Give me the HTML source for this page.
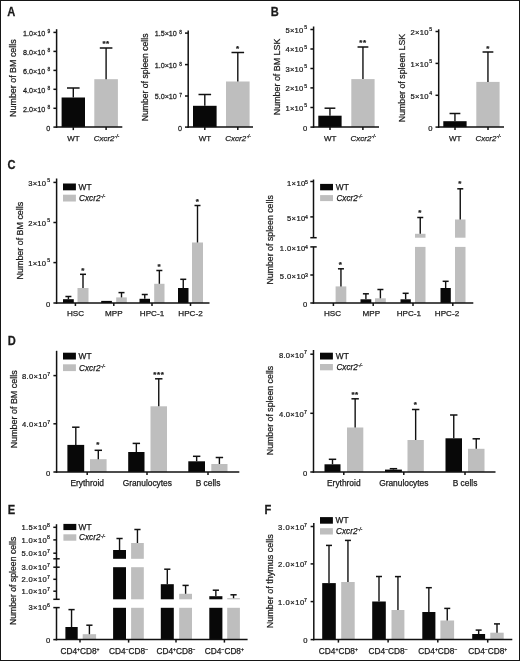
<!DOCTYPE html>
<html><head><meta charset="utf-8"><style>
html,body{margin:0;padding:0;background:#fff;}
body{width:520px;height:661px;overflow:hidden;}
svg{display:block;filter:blur(0.4px);font-family:"Liberation Sans",sans-serif;fill:#1a1a1a;}
text{stroke:#1a1a1a;stroke-width:0.25px;}
</style></head><body>
<svg width="520" height="661" viewBox="0 0 520 661">
<rect x="0.5" y="0.5" width="519" height="660" fill="#fff" stroke="#161616" stroke-width="1"/>
<text transform="translate(7.3,15.6) scale(0.92,1)" font-size="12.1" font-weight="bold">A</text>
<text transform="translate(15.6,78.1) rotate(-90) scale(0.93,1)" font-size="9.57" text-anchor="middle">Number of BM cells</text>
<line x1="56.60" y1="29.20" x2="56.60" y2="127.85" stroke="#111" stroke-width="1.5"/>
<line x1="53.40" y1="32.40" x2="56.60" y2="32.40" stroke="#111" stroke-width="1.5"/>
<text transform="translate(50.30,35.70) scale(0.89,1)" font-size="8.1" text-anchor="end" letter-spacing="0.0">1.0×10<tspan dx="2.6" dy="-2.4" font-size="5.5">9</tspan></text>
<line x1="53.40" y1="51.40" x2="56.60" y2="51.40" stroke="#111" stroke-width="1.5"/>
<text transform="translate(50.30,54.70) scale(0.89,1)" font-size="8.1" text-anchor="end" letter-spacing="0.0">8.0×10<tspan dx="2.6" dy="-2.4" font-size="5.5">8</tspan></text>
<line x1="53.40" y1="70.40" x2="56.60" y2="70.40" stroke="#111" stroke-width="1.5"/>
<text transform="translate(50.30,73.70) scale(0.89,1)" font-size="8.1" text-anchor="end" letter-spacing="0.0">6.0×10<tspan dx="2.6" dy="-2.4" font-size="5.5">8</tspan></text>
<line x1="53.40" y1="89.30" x2="56.60" y2="89.30" stroke="#111" stroke-width="1.5"/>
<text transform="translate(50.30,92.60) scale(0.89,1)" font-size="8.1" text-anchor="end" letter-spacing="0.0">4.0×10<tspan dx="2.6" dy="-2.4" font-size="5.5">8</tspan></text>
<line x1="53.40" y1="108.30" x2="56.60" y2="108.30" stroke="#111" stroke-width="1.5"/>
<text transform="translate(50.30,111.60) scale(0.89,1)" font-size="8.1" text-anchor="end" letter-spacing="0.0">2.0×10<tspan dx="2.6" dy="-2.4" font-size="5.5">8</tspan></text>
<line x1="53.40" y1="127.10" x2="56.60" y2="127.10" stroke="#111" stroke-width="1.5"/>
<text transform="translate(50.30,130.60) scale(0.89,1)" font-size="8.1" text-anchor="end">0</text>
<rect x="61.60" y="97.50" width="23.40" height="29.60" fill="#080808"/>
<line x1="73.30" y1="97.50" x2="73.30" y2="88.00" stroke="#111" stroke-width="1.4"/>
<line x1="67.00" y1="88.00" x2="79.60" y2="88.00" stroke="#111" stroke-width="1.5"/>
<rect x="94.30" y="79.20" width="23.60" height="47.90" fill="#bebebe"/>
<line x1="106.10" y1="79.20" x2="106.10" y2="48.00" stroke="#111" stroke-width="1.4"/>
<line x1="99.80" y1="48.00" x2="112.40" y2="48.00" stroke="#111" stroke-width="1.5"/>
<text x="106.10" y="46.00" font-size="8" text-anchor="middle" font-weight="bold" letter-spacing="0.6">**</text>
<line x1="55.85" y1="127.10" x2="122.30" y2="127.10" stroke="#111" stroke-width="1.5"/>
<line x1="73.30" y1="127.10" x2="73.30" y2="130.10" stroke="#111" stroke-width="1.5"/>
<line x1="106.10" y1="127.10" x2="106.10" y2="130.10" stroke="#111" stroke-width="1.5"/>
<text x="73.40" y="140.50" font-size="8.0" text-anchor="middle" >WT</text>
<text x="106.40" y="140.50" font-size="8.0" text-anchor="middle" font-style="italic">Cxcr2<tspan dx="0.4" dy="-2.7" font-size="4.48">-/-</tspan></text>
<text transform="translate(147.6,77.4) rotate(-90) scale(0.93,1)" font-size="9.30" text-anchor="middle">Number of spleen cells</text>
<line x1="188.20" y1="30.60" x2="188.20" y2="127.85" stroke="#111" stroke-width="1.5"/>
<line x1="185.00" y1="33.10" x2="188.20" y2="33.10" stroke="#111" stroke-width="1.5"/>
<text transform="translate(181.90,36.40) scale(0.89,1)" font-size="8.1" text-anchor="end" letter-spacing="0.0">1.5×10<tspan dx="2.6" dy="-2.4" font-size="5.5">8</tspan></text>
<line x1="185.00" y1="64.60" x2="188.20" y2="64.60" stroke="#111" stroke-width="1.5"/>
<text transform="translate(181.90,67.90) scale(0.89,1)" font-size="8.1" text-anchor="end" letter-spacing="0.0">1.0×10<tspan dx="2.6" dy="-2.4" font-size="5.5">8</tspan></text>
<line x1="185.00" y1="96.00" x2="188.20" y2="96.00" stroke="#111" stroke-width="1.5"/>
<text transform="translate(181.90,99.30) scale(0.89,1)" font-size="8.1" text-anchor="end" letter-spacing="0.0">5.0×10<tspan dx="2.6" dy="-2.4" font-size="5.5">7</tspan></text>
<line x1="185.00" y1="127.10" x2="188.20" y2="127.10" stroke="#111" stroke-width="1.5"/>
<text transform="translate(181.90,130.60) scale(0.89,1)" font-size="8.1" text-anchor="end">0</text>
<rect x="193.00" y="105.80" width="23.60" height="21.30" fill="#080808"/>
<line x1="204.80" y1="105.80" x2="204.80" y2="94.50" stroke="#111" stroke-width="1.4"/>
<line x1="198.50" y1="94.50" x2="211.10" y2="94.50" stroke="#111" stroke-width="1.5"/>
<rect x="226.00" y="81.50" width="23.60" height="45.60" fill="#bebebe"/>
<line x1="237.80" y1="81.50" x2="237.80" y2="52.50" stroke="#111" stroke-width="1.4"/>
<line x1="231.50" y1="52.50" x2="244.10" y2="52.50" stroke="#111" stroke-width="1.5"/>
<text x="237.80" y="50.50" font-size="8" text-anchor="middle" font-weight="bold" letter-spacing="0.6">*</text>
<line x1="187.45" y1="127.10" x2="253.00" y2="127.10" stroke="#111" stroke-width="1.5"/>
<line x1="204.80" y1="127.10" x2="204.80" y2="130.10" stroke="#111" stroke-width="1.5"/>
<line x1="237.80" y1="127.10" x2="237.80" y2="130.10" stroke="#111" stroke-width="1.5"/>
<text x="204.90" y="140.50" font-size="8.0" text-anchor="middle" >WT</text>
<text x="238.10" y="140.50" font-size="8.0" text-anchor="middle" font-style="italic">Cxcr2<tspan dx="0.4" dy="-2.7" font-size="4.48">-/-</tspan></text>
<text transform="translate(270.8,15.6) scale(0.92,1)" font-size="12.1" font-weight="bold">B</text>
<text transform="translate(280.2,76.9) rotate(-90) scale(0.93,1)" font-size="9.57" text-anchor="middle">Number of BM LSK</text>
<line x1="313.60" y1="26.50" x2="313.60" y2="127.85" stroke="#111" stroke-width="1.5"/>
<line x1="310.40" y1="29.50" x2="313.60" y2="29.50" stroke="#111" stroke-width="1.5"/>
<text transform="translate(307.30,32.90) scale(0.94,1)" font-size="8.1" text-anchor="end" letter-spacing="0.27">5×10<tspan dx="0.6" dy="-3.7" font-size="5.5">5</tspan></text>
<line x1="310.40" y1="49.00" x2="313.60" y2="49.00" stroke="#111" stroke-width="1.5"/>
<text transform="translate(307.30,52.40) scale(0.94,1)" font-size="8.1" text-anchor="end" letter-spacing="0.27">4×10<tspan dx="0.6" dy="-3.7" font-size="5.5">5</tspan></text>
<line x1="310.40" y1="68.50" x2="313.60" y2="68.50" stroke="#111" stroke-width="1.5"/>
<text transform="translate(307.30,71.90) scale(0.94,1)" font-size="8.1" text-anchor="end" letter-spacing="0.27">3×10<tspan dx="0.6" dy="-3.7" font-size="5.5">5</tspan></text>
<line x1="310.40" y1="87.90" x2="313.60" y2="87.90" stroke="#111" stroke-width="1.5"/>
<text transform="translate(307.30,91.30) scale(0.94,1)" font-size="8.1" text-anchor="end" letter-spacing="0.27">2×10<tspan dx="0.6" dy="-3.7" font-size="5.5">5</tspan></text>
<line x1="310.40" y1="107.50" x2="313.60" y2="107.50" stroke="#111" stroke-width="1.5"/>
<text transform="translate(307.30,110.90) scale(0.94,1)" font-size="8.1" text-anchor="end" letter-spacing="0.27">1×10<tspan dx="0.6" dy="-3.7" font-size="5.5">5</tspan></text>
<line x1="310.40" y1="127.10" x2="313.60" y2="127.10" stroke="#111" stroke-width="1.5"/>
<text transform="translate(307.30,130.60) scale(0.94,1)" font-size="8.1" text-anchor="end">0</text>
<rect x="318.30" y="115.70" width="23.30" height="11.40" fill="#080808"/>
<line x1="329.95" y1="115.70" x2="329.95" y2="108.20" stroke="#111" stroke-width="1.4"/>
<line x1="324.55" y1="108.20" x2="335.35" y2="108.20" stroke="#111" stroke-width="1.5"/>
<rect x="351.30" y="79.10" width="23.30" height="48.00" fill="#bebebe"/>
<line x1="362.95" y1="79.10" x2="362.95" y2="47.00" stroke="#111" stroke-width="1.4"/>
<line x1="357.55" y1="47.00" x2="368.35" y2="47.00" stroke="#111" stroke-width="1.5"/>
<text x="363.00" y="45.00" font-size="8" text-anchor="middle" font-weight="bold" letter-spacing="0.6">**</text>
<line x1="312.85" y1="127.10" x2="379.00" y2="127.10" stroke="#111" stroke-width="1.5"/>
<line x1="330.00" y1="127.10" x2="330.00" y2="130.10" stroke="#111" stroke-width="1.5"/>
<line x1="362.90" y1="127.10" x2="362.90" y2="130.10" stroke="#111" stroke-width="1.5"/>
<text x="330.10" y="140.50" font-size="8.0" text-anchor="middle" >WT</text>
<text x="363.20" y="140.50" font-size="8.0" text-anchor="middle" font-style="italic">Cxcr2<tspan dx="0.4" dy="-2.7" font-size="4.48">-/-</tspan></text>
<text transform="translate(405,78.0) rotate(-90) scale(0.93,1)" font-size="9.46" text-anchor="middle">Number of spleen LSK</text>
<line x1="438.70" y1="29.30" x2="438.70" y2="127.85" stroke="#111" stroke-width="1.5"/>
<line x1="435.50" y1="31.50" x2="438.70" y2="31.50" stroke="#111" stroke-width="1.5"/>
<text transform="translate(432.40,34.90) scale(0.94,1)" font-size="8.1" text-anchor="end" letter-spacing="0.27">2×10<tspan dx="0.6" dy="-3.7" font-size="5.5">5</tspan></text>
<line x1="435.50" y1="63.40" x2="438.70" y2="63.40" stroke="#111" stroke-width="1.5"/>
<text transform="translate(432.40,66.80) scale(0.94,1)" font-size="8.1" text-anchor="end" letter-spacing="0.27">1×10<tspan dx="0.6" dy="-3.7" font-size="5.5">5</tspan></text>
<line x1="435.50" y1="95.30" x2="438.70" y2="95.30" stroke="#111" stroke-width="1.5"/>
<text transform="translate(432.40,98.70) scale(0.94,1)" font-size="8.1" text-anchor="end" letter-spacing="0.27">5×10<tspan dx="0.6" dy="-3.7" font-size="5.5">4</tspan></text>
<line x1="435.50" y1="127.10" x2="438.70" y2="127.10" stroke="#111" stroke-width="1.5"/>
<text transform="translate(432.40,130.60) scale(0.94,1)" font-size="8.1" text-anchor="end">0</text>
<rect x="443.30" y="121.20" width="23.30" height="5.90" fill="#080808"/>
<line x1="454.95" y1="121.20" x2="454.95" y2="113.50" stroke="#111" stroke-width="1.4"/>
<line x1="449.55" y1="113.50" x2="460.35" y2="113.50" stroke="#111" stroke-width="1.5"/>
<rect x="476.30" y="81.90" width="23.30" height="45.20" fill="#bebebe"/>
<line x1="487.95" y1="81.90" x2="487.95" y2="52.00" stroke="#111" stroke-width="1.4"/>
<line x1="482.55" y1="52.00" x2="493.35" y2="52.00" stroke="#111" stroke-width="1.5"/>
<text x="488.00" y="50.50" font-size="8" text-anchor="middle" font-weight="bold" letter-spacing="0.6">*</text>
<line x1="437.95" y1="127.10" x2="504.00" y2="127.10" stroke="#111" stroke-width="1.5"/>
<line x1="455.00" y1="127.10" x2="455.00" y2="130.10" stroke="#111" stroke-width="1.5"/>
<line x1="488.00" y1="127.10" x2="488.00" y2="130.10" stroke="#111" stroke-width="1.5"/>
<text x="455.10" y="140.50" font-size="8.0" text-anchor="middle" >WT</text>
<text x="488.30" y="140.50" font-size="8.0" text-anchor="middle" font-style="italic">Cxcr2<tspan dx="0.4" dy="-2.7" font-size="4.48">-/-</tspan></text>
<text transform="translate(7.6,169.2) scale(0.92,1)" font-size="12.1" font-weight="bold">C</text>
<text transform="translate(22.8,240.6) rotate(-90) scale(0.93,1)" font-size="9.57" text-anchor="middle">Number of BM cells</text>
<line x1="56.60" y1="178.50" x2="56.60" y2="303.75" stroke="#111" stroke-width="1.5"/>
<line x1="53.40" y1="182.40" x2="56.60" y2="182.40" stroke="#111" stroke-width="1.5"/>
<text transform="translate(50.30,185.60) scale(0.94,1)" font-size="8.1" text-anchor="end" letter-spacing="0.27">3×10<tspan dx="0.9" dy="-3.7" font-size="5.5">5</tspan></text>
<line x1="53.40" y1="222.50" x2="56.60" y2="222.50" stroke="#111" stroke-width="1.5"/>
<text transform="translate(50.30,225.70) scale(0.94,1)" font-size="8.1" text-anchor="end" letter-spacing="0.27">2×10<tspan dx="0.9" dy="-3.7" font-size="5.5">5</tspan></text>
<line x1="53.40" y1="262.60" x2="56.60" y2="262.60" stroke="#111" stroke-width="1.5"/>
<text transform="translate(50.30,265.80) scale(0.94,1)" font-size="8.1" text-anchor="end" letter-spacing="0.27">1×10<tspan dx="0.9" dy="-3.7" font-size="5.5">5</tspan></text>
<line x1="53.40" y1="303.00" x2="56.60" y2="303.00" stroke="#111" stroke-width="1.5"/>
<text transform="translate(50.30,306.50) scale(0.94,1)" font-size="8.1" text-anchor="end">0</text>
<rect x="63.00" y="183.50" width="12.90" height="6.80" fill="#080808"/>
<rect x="63.00" y="194.70" width="12.90" height="6.80" fill="#bebebe"/>
<text x="78.50" y="189.80" font-size="8.4" text-anchor="start" >WT</text>
<text x="79.10" y="200.90" font-size="8.2" text-anchor="start" font-style="italic">Cxcr2<tspan dx="0.4" dy="-2.7" font-size="4.59">-/-</tspan></text>
<rect x="63.00" y="299.20" width="10.80" height="3.80" fill="#080808"/>
<line x1="68.40" y1="299.20" x2="68.40" y2="296.50" stroke="#111" stroke-width="1.4"/>
<line x1="65.40" y1="296.50" x2="71.40" y2="296.50" stroke="#111" stroke-width="1.5"/>
<rect x="77.50" y="288.00" width="11.00" height="15.00" fill="#bebebe"/>
<line x1="83.00" y1="288.00" x2="83.00" y2="274.30" stroke="#111" stroke-width="1.4"/>
<line x1="80.00" y1="274.30" x2="86.00" y2="274.30" stroke="#111" stroke-width="1.5"/>
<text x="83.00" y="272.50" font-size="8" text-anchor="middle" font-weight="bold" letter-spacing="0.6">*</text>
<rect x="101.20" y="300.90" width="10.70" height="2.10" fill="#080808"/>
<rect x="116.20" y="297.40" width="10.60" height="5.60" fill="#bebebe"/>
<line x1="121.50" y1="297.40" x2="121.50" y2="292.60" stroke="#111" stroke-width="1.4"/>
<line x1="118.50" y1="292.60" x2="124.50" y2="292.60" stroke="#111" stroke-width="1.5"/>
<rect x="139.50" y="298.80" width="10.50" height="4.20" fill="#080808"/>
<line x1="144.75" y1="298.80" x2="144.75" y2="294.50" stroke="#111" stroke-width="1.4"/>
<line x1="141.75" y1="294.50" x2="147.75" y2="294.50" stroke="#111" stroke-width="1.5"/>
<rect x="154.20" y="283.80" width="10.30" height="19.20" fill="#bebebe"/>
<line x1="159.35" y1="283.80" x2="159.35" y2="270.50" stroke="#111" stroke-width="1.4"/>
<line x1="156.35" y1="270.50" x2="162.35" y2="270.50" stroke="#111" stroke-width="1.5"/>
<text x="159.30" y="269.00" font-size="8" text-anchor="middle" font-weight="bold" letter-spacing="0.6">*</text>
<rect x="178.00" y="288.00" width="10.50" height="15.00" fill="#080808"/>
<line x1="183.25" y1="288.00" x2="183.25" y2="279.30" stroke="#111" stroke-width="1.4"/>
<line x1="180.25" y1="279.30" x2="186.25" y2="279.30" stroke="#111" stroke-width="1.5"/>
<rect x="192.00" y="242.50" width="11.00" height="60.50" fill="#bebebe"/>
<line x1="197.50" y1="242.50" x2="197.50" y2="205.50" stroke="#111" stroke-width="1.4"/>
<line x1="194.50" y1="205.50" x2="200.50" y2="205.50" stroke="#111" stroke-width="1.5"/>
<text x="197.50" y="204.00" font-size="8" text-anchor="middle" font-weight="bold" letter-spacing="0.6">*</text>
<line x1="55.85" y1="303.00" x2="209.50" y2="303.00" stroke="#111" stroke-width="1.5"/>
<line x1="75.40" y1="303.00" x2="75.40" y2="306.00" stroke="#111" stroke-width="1.5"/>
<line x1="113.80" y1="303.00" x2="113.80" y2="306.00" stroke="#111" stroke-width="1.5"/>
<line x1="152.00" y1="303.00" x2="152.00" y2="306.00" stroke="#111" stroke-width="1.5"/>
<line x1="190.50" y1="303.00" x2="190.50" y2="306.00" stroke="#111" stroke-width="1.5"/>
<text x="75.50" y="316.30" font-size="8.1" text-anchor="middle" >HSC</text>
<text x="113.80" y="316.30" font-size="8.1" text-anchor="middle" >MPP</text>
<text x="152.00" y="316.30" font-size="8.1" text-anchor="middle" >HPC-1</text>
<text x="190.50" y="316.30" font-size="8.1" text-anchor="middle" >HPC-2</text>
<text transform="translate(273,239.9) rotate(-90) scale(0.93,1)" font-size="9.46" text-anchor="middle">Number of spleen cells</text>
<line x1="313.50" y1="179.50" x2="313.50" y2="237.70" stroke="#111" stroke-width="1.5"/>
<line x1="313.50" y1="246.90" x2="313.50" y2="303.75" stroke="#111" stroke-width="1.5"/>
<line x1="310.30" y1="181.50" x2="313.50" y2="181.50" stroke="#111" stroke-width="1.5"/>
<text transform="translate(308.20,185.60) scale(0.94,1)" font-size="8.1" text-anchor="end" letter-spacing="0.4">1×10<tspan dx="-0.7" dy="-2.0" font-size="5.5">5</tspan></text>
<line x1="310.30" y1="216.90" x2="313.50" y2="216.90" stroke="#111" stroke-width="1.5"/>
<text transform="translate(308.20,221.00) scale(0.94,1)" font-size="8.1" text-anchor="end" letter-spacing="0.4">5×10<tspan dx="-0.7" dy="-2.0" font-size="5.5">4</tspan></text>
<line x1="310.30" y1="237.70" x2="316.70" y2="237.70" stroke="#111" stroke-width="1.5"/>
<line x1="310.30" y1="246.90" x2="316.70" y2="246.90" stroke="#111" stroke-width="1.5"/>
<text transform="translate(308.20,251.00) scale(0.94,1)" font-size="8.1" text-anchor="end" letter-spacing="0.4">1.0×10<tspan dx="-0.7" dy="-2.0" font-size="5.5">4</tspan></text>
<line x1="310.30" y1="275.00" x2="313.50" y2="275.00" stroke="#111" stroke-width="1.5"/>
<text transform="translate(308.20,279.10) scale(0.94,1)" font-size="8.1" text-anchor="end" letter-spacing="0.4">5.0×10<tspan dx="-0.7" dy="-2.0" font-size="5.5">3</tspan></text>
<line x1="310.30" y1="303.00" x2="313.50" y2="303.00" stroke="#111" stroke-width="1.5"/>
<text transform="translate(307.20,306.50) scale(0.94,1)" font-size="8.1" text-anchor="end">0</text>
<rect x="320.10" y="183.90" width="12.90" height="6.40" fill="#080808"/>
<rect x="320.10" y="195.10" width="12.90" height="6.00" fill="#bebebe"/>
<text x="335.80" y="190.00" font-size="8.4" text-anchor="start" >WT</text>
<text x="336.40" y="200.90" font-size="8.2" text-anchor="start" font-style="italic">Cxcr2<tspan dx="0.4" dy="-2.7" font-size="4.59">-/-</tspan></text>
<rect x="335.60" y="286.40" width="10.70" height="16.60" fill="#bebebe"/>
<line x1="340.95" y1="286.40" x2="340.95" y2="268.80" stroke="#111" stroke-width="1.4"/>
<line x1="337.95" y1="268.80" x2="343.95" y2="268.80" stroke="#111" stroke-width="1.5"/>
<text x="340.60" y="267.00" font-size="8" text-anchor="middle" font-weight="bold" letter-spacing="0.6">*</text>
<rect x="360.50" y="299.30" width="10.80" height="3.70" fill="#080808"/>
<line x1="365.90" y1="299.30" x2="365.90" y2="293.80" stroke="#111" stroke-width="1.4"/>
<line x1="362.90" y1="293.80" x2="368.90" y2="293.80" stroke="#111" stroke-width="1.5"/>
<rect x="375.00" y="298.30" width="10.80" height="4.70" fill="#bebebe"/>
<line x1="380.40" y1="298.30" x2="380.40" y2="289.50" stroke="#111" stroke-width="1.4"/>
<line x1="377.40" y1="289.50" x2="383.40" y2="289.50" stroke="#111" stroke-width="1.5"/>
<rect x="400.50" y="299.30" width="10.30" height="3.70" fill="#080808"/>
<line x1="405.65" y1="299.30" x2="405.65" y2="293.30" stroke="#111" stroke-width="1.4"/>
<line x1="402.65" y1="293.30" x2="408.65" y2="293.30" stroke="#111" stroke-width="1.5"/>
<rect x="415.00" y="233.80" width="10.50" height="3.90" fill="#bebebe"/>
<rect x="415.00" y="246.90" width="10.50" height="56.10" fill="#bebebe"/>
<line x1="420.25" y1="233.80" x2="420.25" y2="217.50" stroke="#111" stroke-width="1.4"/>
<line x1="417.25" y1="217.50" x2="423.25" y2="217.50" stroke="#111" stroke-width="1.5"/>
<text x="420.20" y="215.00" font-size="8" text-anchor="middle" font-weight="bold" letter-spacing="0.6">*</text>
<rect x="440.50" y="288.00" width="10.30" height="15.00" fill="#080808"/>
<line x1="445.65" y1="288.00" x2="445.65" y2="281.30" stroke="#111" stroke-width="1.4"/>
<line x1="442.65" y1="281.30" x2="448.65" y2="281.30" stroke="#111" stroke-width="1.5"/>
<rect x="455.00" y="219.50" width="10.50" height="18.20" fill="#bebebe"/>
<rect x="455.00" y="246.90" width="10.50" height="56.10" fill="#bebebe"/>
<line x1="460.25" y1="219.50" x2="460.25" y2="188.80" stroke="#111" stroke-width="1.4"/>
<line x1="457.25" y1="188.80" x2="463.25" y2="188.80" stroke="#111" stroke-width="1.5"/>
<text x="460.20" y="186.00" font-size="8" text-anchor="middle" font-weight="bold" letter-spacing="0.6">*</text>
<line x1="312.75" y1="303.00" x2="473.30" y2="303.00" stroke="#111" stroke-width="1.5"/>
<line x1="333.40" y1="303.00" x2="333.40" y2="306.00" stroke="#111" stroke-width="1.5"/>
<line x1="373.20" y1="303.00" x2="373.20" y2="306.00" stroke="#111" stroke-width="1.5"/>
<line x1="413.00" y1="303.00" x2="413.00" y2="306.00" stroke="#111" stroke-width="1.5"/>
<line x1="452.80" y1="303.00" x2="452.80" y2="306.00" stroke="#111" stroke-width="1.5"/>
<text x="332.50" y="316.30" font-size="8.1" text-anchor="middle" >HSC</text>
<text x="371.30" y="316.30" font-size="8.1" text-anchor="middle" >MPP</text>
<text x="408.80" y="316.30" font-size="8.1" text-anchor="middle" >HPC-1</text>
<text x="447.00" y="316.30" font-size="8.1" text-anchor="middle" >HPC-2</text>
<text transform="translate(7.7,344.6) scale(0.92,1)" font-size="12.1" font-weight="bold">D</text>
<text transform="translate(16.6,409.3) rotate(-90) scale(0.93,1)" font-size="9.62" text-anchor="middle">Number of BM cells</text>
<line x1="56.60" y1="350.80" x2="56.60" y2="472.75" stroke="#111" stroke-width="1.5"/>
<line x1="53.40" y1="375.60" x2="56.60" y2="375.60" stroke="#111" stroke-width="1.5"/>
<text transform="translate(50.30,379.00) scale(0.94,1)" font-size="8.1" text-anchor="end" letter-spacing="0.3">8.0×10<tspan dx="-0.1" dy="-3.2" font-size="5.5">7</tspan></text>
<line x1="53.40" y1="423.80" x2="56.60" y2="423.80" stroke="#111" stroke-width="1.5"/>
<text transform="translate(50.30,427.20) scale(0.94,1)" font-size="8.1" text-anchor="end" letter-spacing="0.3">4.0×10<tspan dx="-0.1" dy="-3.2" font-size="5.5">7</tspan></text>
<line x1="53.40" y1="472.00" x2="56.60" y2="472.00" stroke="#111" stroke-width="1.5"/>
<text transform="translate(50.30,475.50) scale(0.94,1)" font-size="8.1" text-anchor="end">0</text>
<rect x="63.00" y="352.70" width="12.90" height="6.80" fill="#080808"/>
<rect x="63.00" y="364.30" width="12.90" height="6.80" fill="#bebebe"/>
<text x="78.50" y="359.00" font-size="8.4" text-anchor="start" >WT</text>
<text x="79.10" y="370.50" font-size="8.2" text-anchor="start" font-style="italic">Cxcr2<tspan dx="0.4" dy="-2.7" font-size="4.59">-/-</tspan></text>
<rect x="67.40" y="444.90" width="16.80" height="27.10" fill="#080808"/>
<line x1="75.80" y1="444.90" x2="75.80" y2="427.20" stroke="#111" stroke-width="1.4"/>
<line x1="72.10" y1="427.20" x2="79.50" y2="427.20" stroke="#111" stroke-width="1.5"/>
<rect x="90.00" y="459.20" width="16.60" height="12.80" fill="#bebebe"/>
<line x1="98.30" y1="459.20" x2="98.30" y2="450.30" stroke="#111" stroke-width="1.4"/>
<line x1="94.60" y1="450.30" x2="102.00" y2="450.30" stroke="#111" stroke-width="1.5"/>
<text x="98.20" y="447.00" font-size="8" text-anchor="middle" font-weight="bold" letter-spacing="0.6">*</text>
<rect x="128.20" y="452.00" width="16.30" height="20.00" fill="#080808"/>
<line x1="136.35" y1="452.00" x2="136.35" y2="443.40" stroke="#111" stroke-width="1.4"/>
<line x1="132.65" y1="443.40" x2="140.05" y2="443.40" stroke="#111" stroke-width="1.5"/>
<rect x="150.50" y="406.30" width="16.50" height="65.70" fill="#bebebe"/>
<line x1="158.75" y1="406.30" x2="158.75" y2="378.80" stroke="#111" stroke-width="1.4"/>
<line x1="155.05" y1="378.80" x2="162.45" y2="378.80" stroke="#111" stroke-width="1.5"/>
<text x="158.80" y="376.50" font-size="8" text-anchor="middle" font-weight="bold" letter-spacing="0.6">***</text>
<rect x="188.30" y="461.30" width="16.70" height="10.70" fill="#080808"/>
<line x1="196.65" y1="461.30" x2="196.65" y2="456.30" stroke="#111" stroke-width="1.4"/>
<line x1="192.95" y1="456.30" x2="200.35" y2="456.30" stroke="#111" stroke-width="1.5"/>
<rect x="211.30" y="464.00" width="16.20" height="8.00" fill="#bebebe"/>
<line x1="219.40" y1="464.00" x2="219.40" y2="457.50" stroke="#111" stroke-width="1.4"/>
<line x1="215.70" y1="457.50" x2="223.10" y2="457.50" stroke="#111" stroke-width="1.5"/>
<line x1="55.85" y1="472.00" x2="239.30" y2="472.00" stroke="#111" stroke-width="1.5"/>
<line x1="87.20" y1="472.00" x2="87.20" y2="475.00" stroke="#111" stroke-width="1.5"/>
<line x1="147.00" y1="472.00" x2="147.00" y2="475.00" stroke="#111" stroke-width="1.5"/>
<line x1="208.00" y1="472.00" x2="208.00" y2="475.00" stroke="#111" stroke-width="1.5"/>
<text x="87.20" y="486.40" font-size="8.4" text-anchor="middle" >Erythroid</text>
<text x="147.30" y="486.40" font-size="8.4" text-anchor="middle" >Granulocytes</text>
<text x="208.00" y="486.40" font-size="8.4" text-anchor="middle" >B cells</text>
<text transform="translate(273,410.5) rotate(-90) scale(0.93,1)" font-size="9.46" text-anchor="middle">Number of spleen cells</text>
<line x1="313.50" y1="350.00" x2="313.50" y2="472.75" stroke="#111" stroke-width="1.5"/>
<line x1="310.30" y1="354.20" x2="313.50" y2="354.20" stroke="#111" stroke-width="1.5"/>
<text transform="translate(307.20,357.60) scale(0.94,1)" font-size="8.1" text-anchor="end" letter-spacing="0.3">8.0×10<tspan dx="-0.1" dy="-3.2" font-size="5.5">7</tspan></text>
<line x1="310.30" y1="413.30" x2="313.50" y2="413.30" stroke="#111" stroke-width="1.5"/>
<text transform="translate(307.20,416.70) scale(0.94,1)" font-size="8.1" text-anchor="end" letter-spacing="0.3">4.0×10<tspan dx="-0.1" dy="-3.2" font-size="5.5">7</tspan></text>
<line x1="310.30" y1="472.00" x2="313.50" y2="472.00" stroke="#111" stroke-width="1.5"/>
<text transform="translate(307.20,475.50) scale(0.94,1)" font-size="8.1" text-anchor="end">0</text>
<rect x="320.00" y="352.70" width="12.90" height="6.80" fill="#080808"/>
<rect x="320.00" y="364.00" width="12.90" height="6.30" fill="#bebebe"/>
<text x="335.80" y="359.00" font-size="8.4" text-anchor="start" >WT</text>
<text x="336.40" y="369.95" font-size="8.2" text-anchor="start" font-style="italic">Cxcr2<tspan dx="0.4" dy="-2.7" font-size="4.59">-/-</tspan></text>
<rect x="324.50" y="464.30" width="16.00" height="7.70" fill="#080808"/>
<line x1="332.50" y1="464.30" x2="332.50" y2="459.30" stroke="#111" stroke-width="1.4"/>
<line x1="328.80" y1="459.30" x2="336.20" y2="459.30" stroke="#111" stroke-width="1.5"/>
<rect x="347.00" y="427.50" width="16.30" height="44.50" fill="#bebebe"/>
<line x1="355.15" y1="427.50" x2="355.15" y2="398.80" stroke="#111" stroke-width="1.4"/>
<line x1="351.45" y1="398.80" x2="358.85" y2="398.80" stroke="#111" stroke-width="1.5"/>
<text x="355.10" y="396.50" font-size="8" text-anchor="middle" font-weight="bold" letter-spacing="0.6">**</text>
<rect x="385.00" y="469.60" width="16.90" height="2.40" fill="#080808"/>
<line x1="393.45" y1="469.60" x2="393.45" y2="468.70" stroke="#111" stroke-width="1.4"/>
<line x1="389.75" y1="468.70" x2="397.15" y2="468.70" stroke="#111" stroke-width="1.5"/>
<rect x="407.50" y="440.00" width="16.30" height="32.00" fill="#bebebe"/>
<line x1="415.65" y1="440.00" x2="415.65" y2="409.50" stroke="#111" stroke-width="1.4"/>
<line x1="411.95" y1="409.50" x2="419.35" y2="409.50" stroke="#111" stroke-width="1.5"/>
<text x="415.60" y="407.00" font-size="8" text-anchor="middle" font-weight="bold" letter-spacing="0.6">*</text>
<rect x="445.50" y="438.30" width="16.50" height="33.70" fill="#080808"/>
<line x1="453.75" y1="438.30" x2="453.75" y2="415.00" stroke="#111" stroke-width="1.4"/>
<line x1="450.05" y1="415.00" x2="457.45" y2="415.00" stroke="#111" stroke-width="1.5"/>
<rect x="468.00" y="448.80" width="16.50" height="23.20" fill="#bebebe"/>
<line x1="476.25" y1="448.80" x2="476.25" y2="438.80" stroke="#111" stroke-width="1.4"/>
<line x1="472.55" y1="438.80" x2="479.95" y2="438.80" stroke="#111" stroke-width="1.5"/>
<line x1="312.75" y1="472.00" x2="495.50" y2="472.00" stroke="#111" stroke-width="1.5"/>
<line x1="343.80" y1="472.00" x2="343.80" y2="475.00" stroke="#111" stroke-width="1.5"/>
<line x1="403.80" y1="472.00" x2="403.80" y2="475.00" stroke="#111" stroke-width="1.5"/>
<line x1="465.00" y1="472.00" x2="465.00" y2="475.00" stroke="#111" stroke-width="1.5"/>
<text x="343.80" y="486.40" font-size="8.4" text-anchor="middle" >Erythroid</text>
<text x="403.80" y="486.40" font-size="8.4" text-anchor="middle" >Granulocytes</text>
<text x="465.00" y="486.40" font-size="8.4" text-anchor="middle" >B cells</text>
<text transform="translate(7.7,513.8) scale(0.92,1)" font-size="12.1" font-weight="bold">E</text>
<text transform="translate(15.6,580.9) rotate(-90) scale(0.93,1)" font-size="9.35" text-anchor="middle">Number of spleen cells</text>
<line x1="56.50" y1="524.20" x2="56.50" y2="599.30" stroke="#111" stroke-width="1.5"/>
<line x1="56.50" y1="607.60" x2="56.50" y2="640.35" stroke="#111" stroke-width="1.5"/>
<line x1="53.30" y1="527.30" x2="56.50" y2="527.30" stroke="#111" stroke-width="1.5"/>
<text transform="translate(50.20,530.00) scale(0.94,1)" font-size="8.1" text-anchor="end" letter-spacing="0.37">1.5×10<tspan dx="-0.1" dy="-3.2" font-size="5.5">8</tspan></text>
<line x1="53.30" y1="539.90" x2="56.50" y2="539.90" stroke="#111" stroke-width="1.5"/>
<text transform="translate(50.20,542.60) scale(0.94,1)" font-size="8.1" text-anchor="end" letter-spacing="0.37">1.0×10<tspan dx="-0.1" dy="-3.2" font-size="5.5">8</tspan></text>
<line x1="53.30" y1="553.20" x2="56.50" y2="553.20" stroke="#111" stroke-width="1.5"/>
<text transform="translate(50.20,555.90) scale(0.94,1)" font-size="8.1" text-anchor="end" letter-spacing="0.37">5.0×10<tspan dx="-0.1" dy="-3.2" font-size="5.5">7</tspan></text>
<line x1="53.30" y1="579.30" x2="56.50" y2="579.30" stroke="#111" stroke-width="1.5"/>
<text transform="translate(50.20,582.00) scale(0.94,1)" font-size="8.1" text-anchor="end" letter-spacing="0.37">2.0×10<tspan dx="-0.1" dy="-3.2" font-size="5.5">7</tspan></text>
<line x1="53.30" y1="591.20" x2="56.50" y2="591.20" stroke="#111" stroke-width="1.5"/>
<text transform="translate(50.20,593.90) scale(0.94,1)" font-size="8.1" text-anchor="end" letter-spacing="0.37">1.0×10<tspan dx="-0.1" dy="-3.2" font-size="5.5">7</tspan></text>
<line x1="53.30" y1="558.80" x2="59.70" y2="558.80" stroke="#111" stroke-width="1.5"/>
<line x1="53.30" y1="567.20" x2="59.70" y2="567.20" stroke="#111" stroke-width="1.5"/>
<text transform="translate(50.20,569.90) scale(0.94,1)" font-size="8.1" text-anchor="end" letter-spacing="0.37">3.0×10<tspan dx="-0.1" dy="-3.2" font-size="5.5">7</tspan></text>
<line x1="53.30" y1="599.30" x2="59.70" y2="599.30" stroke="#111" stroke-width="1.5"/>
<line x1="53.30" y1="607.60" x2="59.70" y2="607.60" stroke="#111" stroke-width="1.5"/>
<text transform="translate(50.20,610.30) scale(0.94,1)" font-size="8.1" text-anchor="end" letter-spacing="0.37">3×10<tspan dx="-0.1" dy="-3.2" font-size="5.5">6</tspan></text>
<line x1="53.30" y1="639.60" x2="56.50" y2="639.60" stroke="#111" stroke-width="1.5"/>
<text transform="translate(50.20,643.10) scale(0.94,1)" font-size="8.1" text-anchor="end">0</text>
<rect x="63.40" y="523.90" width="12.90" height="6.20" fill="#080808"/>
<rect x="63.40" y="534.30" width="12.90" height="6.40" fill="#bebebe"/>
<text x="78.50" y="529.90" font-size="8.4" text-anchor="start" >WT</text>
<text x="79.10" y="540.30" font-size="8.2" text-anchor="start" font-style="italic">Cxcr2<tspan dx="0.4" dy="-2.7" font-size="4.59">-/-</tspan></text>
<rect x="65.40" y="627.00" width="12.30" height="12.60" fill="#080808"/>
<line x1="71.55" y1="627.00" x2="71.55" y2="609.60" stroke="#111" stroke-width="1.4"/>
<line x1="68.45" y1="609.60" x2="74.65" y2="609.60" stroke="#111" stroke-width="1.5"/>
<rect x="82.70" y="634.20" width="13.40" height="5.40" fill="#bebebe"/>
<line x1="89.40" y1="634.20" x2="89.40" y2="625.20" stroke="#111" stroke-width="1.4"/>
<line x1="86.30" y1="625.20" x2="92.50" y2="625.20" stroke="#111" stroke-width="1.5"/>
<rect x="113.10" y="550.00" width="12.90" height="8.80" fill="#080808"/>
<rect x="113.10" y="567.20" width="12.90" height="32.10" fill="#080808"/>
<rect x="113.10" y="607.80" width="12.90" height="31.80" fill="#080808"/>
<line x1="119.55" y1="550.00" x2="119.55" y2="538.50" stroke="#111" stroke-width="1.4"/>
<line x1="116.45" y1="538.50" x2="122.65" y2="538.50" stroke="#111" stroke-width="1.5"/>
<rect x="131.10" y="543.00" width="12.70" height="15.80" fill="#bebebe"/>
<rect x="131.10" y="567.20" width="12.70" height="32.10" fill="#bebebe"/>
<rect x="131.10" y="607.80" width="12.70" height="31.80" fill="#bebebe"/>
<line x1="137.45" y1="543.00" x2="137.45" y2="529.50" stroke="#111" stroke-width="1.4"/>
<line x1="134.35" y1="529.50" x2="140.55" y2="529.50" stroke="#111" stroke-width="1.5"/>
<rect x="160.80" y="584.20" width="13.00" height="15.10" fill="#080808"/>
<rect x="160.80" y="607.80" width="13.00" height="31.80" fill="#080808"/>
<line x1="167.30" y1="584.20" x2="167.30" y2="569.20" stroke="#111" stroke-width="1.4"/>
<line x1="164.20" y1="569.20" x2="170.40" y2="569.20" stroke="#111" stroke-width="1.5"/>
<rect x="179.20" y="593.80" width="12.80" height="5.50" fill="#bebebe"/>
<rect x="179.20" y="607.80" width="12.80" height="31.80" fill="#bebebe"/>
<line x1="185.60" y1="593.80" x2="185.60" y2="585.40" stroke="#111" stroke-width="1.4"/>
<line x1="182.50" y1="585.40" x2="188.70" y2="585.40" stroke="#111" stroke-width="1.5"/>
<rect x="209.30" y="596.20" width="13.10" height="3.10" fill="#080808"/>
<rect x="209.30" y="607.80" width="13.10" height="31.80" fill="#080808"/>
<line x1="215.85" y1="596.20" x2="215.85" y2="590.20" stroke="#111" stroke-width="1.4"/>
<line x1="212.75" y1="590.20" x2="218.95" y2="590.20" stroke="#111" stroke-width="1.5"/>
<rect x="227.20" y="598.20" width="12.70" height="1.10" fill="#bebebe"/>
<rect x="227.20" y="607.80" width="12.70" height="31.80" fill="#bebebe"/>
<line x1="233.55" y1="598.20" x2="233.55" y2="594.80" stroke="#111" stroke-width="1.4"/>
<line x1="230.45" y1="594.80" x2="236.65" y2="594.80" stroke="#111" stroke-width="1.5"/>
<line x1="55.75" y1="639.60" x2="247.60" y2="639.60" stroke="#111" stroke-width="1.5"/>
<line x1="80.00" y1="639.60" x2="80.00" y2="642.60" stroke="#111" stroke-width="1.5"/>
<line x1="128.60" y1="639.60" x2="128.60" y2="642.60" stroke="#111" stroke-width="1.5"/>
<line x1="176.00" y1="639.60" x2="176.00" y2="642.60" stroke="#111" stroke-width="1.5"/>
<line x1="224.40" y1="639.60" x2="224.40" y2="642.60" stroke="#111" stroke-width="1.5"/>
<text x="80.00" y="654.10" font-size="8.3" text-anchor="middle">CD4<tspan dy="-3" font-size="5">+</tspan><tspan dy="3">CD8</tspan><tspan dy="-3" font-size="5">+</tspan></text>
<text x="128.60" y="654.10" font-size="8.3" text-anchor="middle">CD4<tspan dy="-3" font-size="5">−</tspan><tspan dy="3">CD8</tspan><tspan dy="-3" font-size="5">−</tspan></text>
<text x="176.00" y="654.10" font-size="8.3" text-anchor="middle">CD4<tspan dy="-3" font-size="5">+</tspan><tspan dy="3">CD8</tspan><tspan dy="-3" font-size="5">−</tspan></text>
<text x="224.40" y="654.10" font-size="8.3" text-anchor="middle">CD4<tspan dy="-3" font-size="5">−</tspan><tspan dy="3">CD8</tspan><tspan dy="-3" font-size="5">+</tspan></text>
<text transform="translate(264.6,513.5) scale(0.92,1)" font-size="12.1" font-weight="bold">F</text>
<text transform="translate(273,581.3) rotate(-90) scale(0.93,1)" font-size="9.68" text-anchor="middle">Number of thymus cells</text>
<line x1="313.80" y1="523.10" x2="313.80" y2="640.35" stroke="#111" stroke-width="1.5"/>
<line x1="310.60" y1="526.50" x2="313.80" y2="526.50" stroke="#111" stroke-width="1.5"/>
<text transform="translate(307.50,529.80) scale(0.94,1)" font-size="8.1" text-anchor="end" letter-spacing="0.6">3.0×10<tspan dx="-0.9" dy="-2.6" font-size="5.5">7</tspan></text>
<line x1="310.60" y1="563.90" x2="313.80" y2="563.90" stroke="#111" stroke-width="1.5"/>
<text transform="translate(307.50,567.20) scale(0.94,1)" font-size="8.1" text-anchor="end" letter-spacing="0.6">2.0×10<tspan dx="-0.9" dy="-2.6" font-size="5.5">7</tspan></text>
<line x1="310.60" y1="601.60" x2="313.80" y2="601.60" stroke="#111" stroke-width="1.5"/>
<text transform="translate(307.50,604.90) scale(0.94,1)" font-size="8.1" text-anchor="end" letter-spacing="0.6">1.0×10<tspan dx="-0.9" dy="-2.6" font-size="5.5">7</tspan></text>
<line x1="310.60" y1="639.60" x2="313.80" y2="639.60" stroke="#111" stroke-width="1.5"/>
<text transform="translate(307.50,643.10) scale(0.94,1)" font-size="8.1" text-anchor="end">0</text>
<rect x="320.00" y="517.10" width="12.90" height="6.60" fill="#080808"/>
<rect x="320.00" y="528.20" width="12.90" height="6.30" fill="#bebebe"/>
<text x="335.50" y="523.30" font-size="8.4" text-anchor="start" >WT</text>
<text x="336.10" y="534.15" font-size="8.2" text-anchor="start" font-style="italic">Cxcr2<tspan dx="0.4" dy="-2.7" font-size="4.59">-/-</tspan></text>
<rect x="322.20" y="583.10" width="13.60" height="56.50" fill="#080808"/>
<line x1="329.00" y1="583.10" x2="329.00" y2="545.40" stroke="#111" stroke-width="1.4"/>
<line x1="326.00" y1="545.40" x2="332.00" y2="545.40" stroke="#111" stroke-width="1.5"/>
<rect x="341.20" y="582.00" width="13.50" height="57.60" fill="#bebebe"/>
<line x1="347.95" y1="582.00" x2="347.95" y2="540.40" stroke="#111" stroke-width="1.4"/>
<line x1="344.95" y1="540.40" x2="350.95" y2="540.40" stroke="#111" stroke-width="1.5"/>
<rect x="372.20" y="601.50" width="13.60" height="38.10" fill="#080808"/>
<line x1="379.00" y1="601.50" x2="379.00" y2="576.50" stroke="#111" stroke-width="1.4"/>
<line x1="376.00" y1="576.50" x2="382.00" y2="576.50" stroke="#111" stroke-width="1.5"/>
<rect x="391.50" y="610.00" width="12.90" height="29.60" fill="#bebebe"/>
<line x1="397.95" y1="610.00" x2="397.95" y2="576.60" stroke="#111" stroke-width="1.4"/>
<line x1="394.95" y1="576.60" x2="400.95" y2="576.60" stroke="#111" stroke-width="1.5"/>
<rect x="422.30" y="612.00" width="13.10" height="27.60" fill="#080808"/>
<line x1="428.85" y1="612.00" x2="428.85" y2="587.70" stroke="#111" stroke-width="1.4"/>
<line x1="425.85" y1="587.70" x2="431.85" y2="587.70" stroke="#111" stroke-width="1.5"/>
<rect x="440.40" y="620.50" width="13.70" height="19.10" fill="#bebebe"/>
<line x1="447.25" y1="620.50" x2="447.25" y2="608.40" stroke="#111" stroke-width="1.4"/>
<line x1="444.25" y1="608.40" x2="450.25" y2="608.40" stroke="#111" stroke-width="1.5"/>
<rect x="472.20" y="634.00" width="12.90" height="5.60" fill="#080808"/>
<line x1="478.65" y1="634.00" x2="478.65" y2="630.10" stroke="#111" stroke-width="1.4"/>
<line x1="475.65" y1="630.10" x2="481.65" y2="630.10" stroke="#111" stroke-width="1.5"/>
<rect x="490.30" y="632.70" width="13.40" height="6.90" fill="#bebebe"/>
<line x1="497.00" y1="632.70" x2="497.00" y2="623.90" stroke="#111" stroke-width="1.4"/>
<line x1="494.00" y1="623.90" x2="500.00" y2="623.90" stroke="#111" stroke-width="1.5"/>
<line x1="313.05" y1="639.60" x2="512.30" y2="639.60" stroke="#111" stroke-width="1.5"/>
<line x1="338.40" y1="639.60" x2="338.40" y2="642.60" stroke="#111" stroke-width="1.5"/>
<line x1="388.10" y1="639.60" x2="388.10" y2="642.60" stroke="#111" stroke-width="1.5"/>
<line x1="437.80" y1="639.60" x2="437.80" y2="642.60" stroke="#111" stroke-width="1.5"/>
<line x1="487.70" y1="639.60" x2="487.70" y2="642.60" stroke="#111" stroke-width="1.5"/>
<text x="338.40" y="654.10" font-size="8.3" text-anchor="middle">CD4<tspan dy="-3" font-size="5">+</tspan><tspan dy="3">CD8</tspan><tspan dy="-3" font-size="5">+</tspan></text>
<text x="388.10" y="654.10" font-size="8.3" text-anchor="middle">CD4<tspan dy="-3" font-size="5">−</tspan><tspan dy="3">CD8</tspan><tspan dy="-3" font-size="5">−</tspan></text>
<text x="437.80" y="654.10" font-size="8.3" text-anchor="middle">CD4<tspan dy="-3" font-size="5">+</tspan><tspan dy="3">CD8</tspan><tspan dy="-3" font-size="5">−</tspan></text>
<text x="487.70" y="654.10" font-size="8.3" text-anchor="middle">CD4<tspan dy="-3" font-size="5">−</tspan><tspan dy="3">CD8</tspan><tspan dy="-3" font-size="5">+</tspan></text>
</svg>
</body></html>
